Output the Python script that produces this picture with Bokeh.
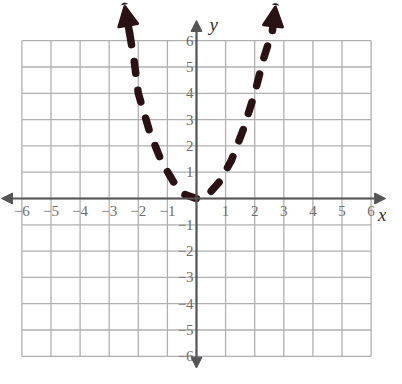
from bokeh.plotting import figure
from bokeh.models import Range1d, Arrow, NormalHead
from bokeh.core.properties import value
from bokeh.embed import file_html
from bokeh.resources import INLINE

# tick values / labels
ticks = [-6, -5, -4, -3, -2, -1, 0, 1, 2, 3, 4, 5, 6]
x_tick_labels = ["−6", "−5", "−4", "−3", "−2", "−1", "1", "2", "3", "4", "5", "6"]
x_tick_vals = [-6, -5, -4, -3, -2, -1, 1, 2, 3, 4, 5, 6]
y_tick_labels = ["6", "5", "4", "3", "2", "1", "−1", "−2", "−3", "−4", "−5", "−6"]
y_tick_vals = [6, 5, 4, 3, 2, 1, -1, -2, -3, -4, -5, -6]

# hand-drawn dashed curve
curve_x = [-2.3, -2.15, -2.0, -1.6, -1.2, -0.8, -0.4, 0.0, 0.4, 0.8, 1.2, 1.6, 2.0, 2.3, 2.61]
curve_y = [6.3, 5.3, 4.0, 2.5, 1.4, 0.65, 0.15, 0.0, 0.15, 0.65, 1.45, 2.6, 4.0, 5.3, 6.39]
# arrow tips at the ends of the curve
left_tip = (-2.46, 7.3)
right_tip = (2.71, 7.28)

W, H = 386, 368
p = figure(width=W, height=H, output_backend="svg", toolbar_location=None,
           x_range=Range1d(-6.735, 6.529), y_range=Range1d(-6.464, 7.529),
           x_axis_type=None, y_axis_type=None, min_border=0)
p.outline_line_color = None
p.grid.visible = False
p.background_fill_color = "white"
p.border_fill_color = "white"

grid_color = "#b0b0b0"
# vertical grid lines
p.segment(x0=ticks, y0=[-6] * len(ticks), x1=ticks, y1=[6] * len(ticks),
          line_color=grid_color, line_width=1.3)
# horizontal grid lines
p.segment(x0=[-6] * len(ticks), y0=ticks, x1=[6] * len(ticks), y1=ticks,
          line_color=grid_color, line_width=1.3)

axis_color = "#555555"
p.add_layout(Arrow(x_start=0, y_start=-6.45, x_end=0, y_end=6.77,
                   line_color=axis_color, line_width=2.2,
                   start=NormalHead(size=11, fill_color=axis_color, line_color=axis_color),
                   end=NormalHead(size=11, fill_color=axis_color, line_color=axis_color)))
p.add_layout(Arrow(x_start=-6.7, y_start=0, x_end=6.5, y_end=0,
                   line_color=axis_color, line_width=2.2,
                   start=NormalHead(size=11, fill_color=axis_color, line_color=axis_color),
                   end=NormalHead(size=11, fill_color=axis_color, line_color=axis_color)))

# tick labels
lab_color = "#6e6e6e"
p.text(x=x_tick_vals, y=[-0.47] * len(x_tick_vals), text=x_tick_labels,
       text_align="center", text_baseline="middle", text_color=lab_color,
       text_font=value("Liberation Serif"), text_font_size="15px")
p.text(x=[-0.1] * len(y_tick_vals), y=y_tick_vals, text=y_tick_labels,
       text_align="right", text_baseline="middle", text_color=lab_color,
       text_font=value("Liberation Serif"), text_font_size="15px")

# axis names
p.text(x=[0.45], y=[6.6], text=["y"], text_align="left", text_baseline="middle",
       text_color="#333333", text_font=value("Liberation Serif"),
       text_font_style="italic", text_font_size="19px")
p.text(x=[6.53], y=[-0.62], text=["x"], text_align="right", text_baseline="middle",
       text_color="#333333", text_font=value("Liberation Serif"),
       text_font_style="italic", text_font_size="19px")

# dashed curve
curve_color = "#2a1214"
p.line(curve_x, curve_y, line_color=curve_color, line_width=7.5,
       line_dash="12 17", line_cap="round", line_join="round")
p.add_layout(Arrow(x_start=curve_x[0], y_start=curve_y[0], x_end=left_tip[0], y_end=left_tip[1],
                   line_color=curve_color, line_width=7.5, line_cap="round",
                   end=NormalHead(size=19, fill_color=curve_color, line_color=curve_color, line_width=3,
                                  line_join="round")))
p.add_layout(Arrow(x_start=curve_x[-1], y_start=curve_y[-1], x_end=right_tip[0], y_end=right_tip[1],
                   line_color=curve_color, line_width=7.5, line_cap="round",
                   end=NormalHead(size=19, fill_color=curve_color, line_color=curve_color, line_width=3,
                                  line_join="round")))

open("out.html", "w").write(file_html(p, INLINE))
